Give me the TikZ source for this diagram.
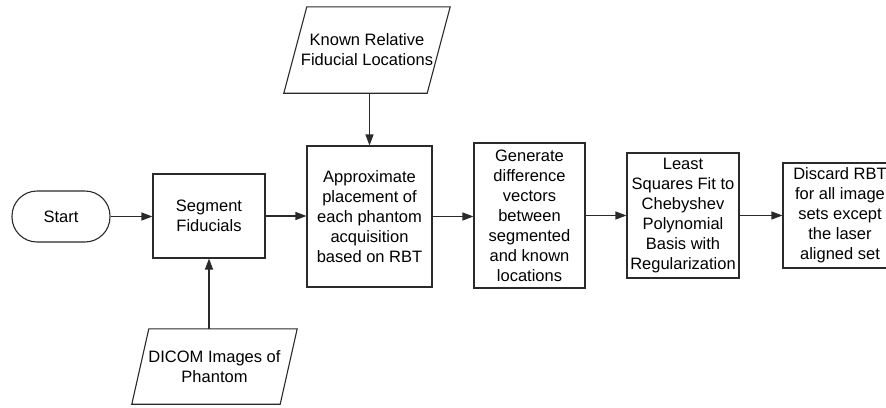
\documentclass[tikz,border=0pt]{standalone}
\usepackage{fontspec}
\setmainfont{Liberation Sans}
\usetikzlibrary{arrows.meta}
\definecolor{edge}{HTML}{2A2A2A}
\tikzset{
  x=1pt, y=-1pt,
  every node/.style={font=\fontsize{16.5}{20}\selectfont, text=black, align=center, inner sep=0pt},
  procbox/.style={draw=edge, line width=1.1pt, fill=white},
  termbox/.style={draw=edge, line width=1.1pt, rounded corners=25pt},
  iobox/.style={inner sep=0pt},
  ioshape/.style={draw=edge, line width=1.1pt},
  flow/.style={draw=edge, line width=1.1pt, -{Triangle[length=11pt,width=8pt]}},
}
\begin{document}
\begin{tikzpicture}
\useasboundingbox (0,0) rectangle (886,407);
\begin{scope}
\clip (0,0) rectangle (886,407);

% process steps
\node[termbox, minimum width=98pt, minimum height=51pt] (start) at (61,216.5) {Start};
\node[procbox, minimum width=112pt, minimum height=84pt] (seg) at (209,216) {Segment\\Fiducials};
\node[procbox, minimum width=125pt, minimum height=141pt] (approx) at (369.5,216.5) {Approximate\\placement of\\each phantom\\acquisition\\based on RBT};
\node[procbox, minimum width=111pt, minimum height=145pt] (gen) at (529.5,215.5) {Generate\\difference\\vectors\\between\\segmented\\and known\\locations};
\node[procbox, minimum width=112pt, minimum height=125pt] (lsq) at (683,215.5) {Least\\Squares Fit to\\Chebyshev\\Polynomial\\Basis with\\Regularization};
\node[procbox, minimum width=114pt, minimum height=105pt] (discard) at (840,215.5) {Discard RBT\\for all image\\sets except\\the laser\\aligned set};

% input data (parallelograms)
\node[iobox, minimum width=143pt, minimum height=86pt] (known) at (367,50) {Known Relative\\Fiducial Locations};
\draw[ioshape] ([xshift=-11.5pt]known.south west) -- ([xshift=11.5pt]known.north west)
  -- ([xshift=11.5pt]known.north east) -- ([xshift=-11.5pt]known.south east) -- cycle;

\node[iobox, minimum width=148pt, minimum height=75pt] (dicom) at (214.5,366.5) {DICOM Images of\\Phantom};
\draw[ioshape] ([xshift=-8.5pt]dicom.south west) -- ([xshift=8.5pt]dicom.north west)
  -- ([xshift=8.5pt]dicom.north east) -- ([xshift=-8.5pt]dicom.south east) -- cycle;

% connectors
\draw[flow] (start.east) -- (seg.west |- start.east);
\draw[flow] (seg.east) -- (approx.west |- seg.east);
\draw[flow] (approx.east) -- (gen.west |- approx.east);
\draw[flow] (gen.east) -- (lsq.west |- gen.east);
\draw[flow] (lsq.east) -- (discard.west |- lsq.east);
\draw[flow] (approx.north |- known.south) -- (approx.north);
\draw[flow] (seg.south |- dicom.north) -- (seg.south);
\end{scope}
\end{tikzpicture}
\end{document}
